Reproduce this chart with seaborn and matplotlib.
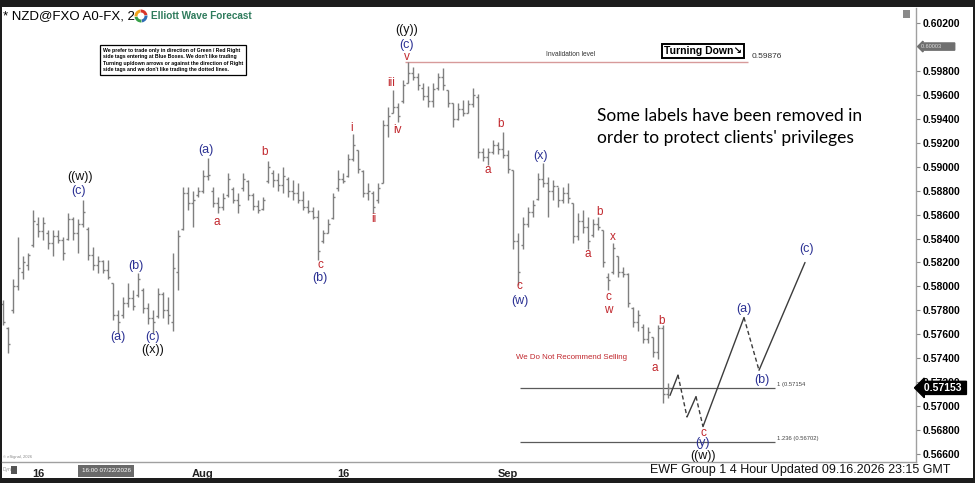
import matplotlib
matplotlib.use("Agg")
import matplotlib.pyplot as plt
import matplotlib.patches as mpatches
import matplotlib.transforms as mtransforms
from matplotlib.ticker import FormatStrFormatter
import seaborn as sns
import pandas as pd
import numpy as np

# ---------------------------------------------------------------
# NZD 4 hour bars
# ---------------------------------------------------------------
bar_open = [
    0.5785, 0.5765, 0.5780, 0.5800, 0.5812, 0.5818, 0.5835, 0.5852, 0.5846, 0.5845,
    0.5836, 0.5842, 0.5839, 0.5840, 0.5856, 0.5845, 0.5852, 0.5848, 0.5826, 0.5818,
    0.5821, 0.5814, 0.5803, 0.5776, 0.5776, 0.5786, 0.5790, 0.5793, 0.5797, 0.5782,
    0.5774, 0.5775, 0.5794, 0.5780, 0.5770, 0.5812, 0.5848, 0.5878, 0.5870, 0.5876,
    0.5880, 0.5892, 0.5880, 0.5870, 0.5866, 0.5876, 0.5881, 0.5872, 0.5882, 0.5888,
    0.5876, 0.5867, 0.5865, 0.5888, 0.5895, 0.5889, 0.5885, 0.5890, 0.5880, 0.5878,
    0.5872, 0.5866, 0.5863, 0.5858, 0.5838, 0.5845, 0.5857, 0.5882, 0.5890, 0.5892,
    0.5906, 0.5914, 0.5896, 0.5878, 0.5878, 0.5872, 0.5886, 0.5935, 0.5945, 0.5950,
    0.5955, 0.5970, 0.5978, 0.5975, 0.5966, 0.5959, 0.5955, 0.5966, 0.5975, 0.5964,
    0.5953, 0.5940, 0.5948, 0.5945, 0.5952, 0.5958, 0.5912, 0.5908, 0.5912, 0.5918,
    0.5915, 0.5910, 0.5897, 0.5838, 0.5835, 0.5852, 0.5862, 0.5873, 0.5890, 0.5886,
    0.5880, 0.5884, 0.5872, 0.5878, 0.5870, 0.5842, 0.5855, 0.5850, 0.5843, 0.5852,
    0.5847, 0.5808, 0.5812, 0.5825, 0.5812, 0.5810, 0.5782, 0.5770, 0.5766, 0.5756,
    0.5758, 0.5745, 0.5765, 0.5710,
]
bar_high = [
    0.5789, 0.5766, 0.5806, 0.5841, 0.5825, 0.5828, 0.5864, 0.5858, 0.5858, 0.5847,
    0.5847, 0.5847, 0.5841, 0.5861, 0.5858, 0.5856, 0.5872, 0.5850, 0.5833, 0.5825,
    0.5822, 0.5822, 0.5803, 0.5780, 0.5791, 0.5803, 0.5797, 0.5811, 0.5799, 0.5786,
    0.5780, 0.5799, 0.5795, 0.5791, 0.5828, 0.5847, 0.5883, 0.5883, 0.5880, 0.5883,
    0.5897, 0.5907, 0.5883, 0.5875, 0.5878, 0.5895, 0.5883, 0.5878, 0.5895, 0.5889,
    0.5878, 0.5872, 0.5875, 0.5905, 0.5897, 0.5895, 0.5900, 0.5891, 0.5889, 0.5886,
    0.5880, 0.5872, 0.5866, 0.5864, 0.5847, 0.5856, 0.5878, 0.5897, 0.5895, 0.5911,
    0.5927, 0.5914, 0.5897, 0.5886, 0.5880, 0.5886, 0.5939, 0.5950, 0.5964, 0.5953,
    0.5972, 0.5987, 0.5983, 0.5978, 0.5970, 0.5967, 0.5970, 0.5978, 0.5982, 0.5964,
    0.5953, 0.5953, 0.5956, 0.5956, 0.5966, 0.5961, 0.5916, 0.5916, 0.5922, 0.5921,
    0.5929, 0.5914, 0.5897, 0.5845, 0.5858, 0.5866, 0.5872, 0.5895, 0.5903, 0.5891,
    0.5889, 0.5883, 0.5883, 0.5886, 0.5870, 0.5861, 0.5864, 0.5858, 0.5856, 0.5858,
    0.5847, 0.5811, 0.5836, 0.5825, 0.5816, 0.5811, 0.5783, 0.5780, 0.5769, 0.5766,
    0.5758, 0.5768, 0.5768, 0.5719,
]
bar_low = [
    0.5768, 0.5744, 0.5778, 0.5797, 0.5806, 0.5814, 0.5833, 0.5841, 0.5839, 0.5831,
    0.5825, 0.5836, 0.5822, 0.5839, 0.5839, 0.5828, 0.5850, 0.5822, 0.5814, 0.5811,
    0.5811, 0.5806, 0.5772, 0.5761, 0.5774, 0.5783, 0.5780, 0.5791, 0.5778, 0.5769,
    0.5761, 0.5774, 0.5774, 0.5769, 0.5763, 0.5797, 0.5847, 0.5864, 0.5850, 0.5875,
    0.5878, 0.5889, 0.5866, 0.5861, 0.5864, 0.5875, 0.5870, 0.5861, 0.5880, 0.5872,
    0.5864, 0.5861, 0.5864, 0.5886, 0.5883, 0.5880, 0.5878, 0.5875, 0.5872, 0.5870,
    0.5864, 0.5861, 0.5856, 0.5822, 0.5836, 0.5845, 0.5856, 0.5880, 0.5886, 0.5891,
    0.5905, 0.5895, 0.5875, 0.5872, 0.5861, 0.5870, 0.5886, 0.5925, 0.5945, 0.5937,
    0.5953, 0.5970, 0.5972, 0.5964, 0.5956, 0.5950, 0.5950, 0.5964, 0.5964, 0.5950,
    0.5933, 0.5939, 0.5942, 0.5945, 0.5950, 0.5907, 0.5905, 0.5901, 0.5911, 0.5911,
    0.5907, 0.5895, 0.5831, 0.5801, 0.5831, 0.5850, 0.5858, 0.5872, 0.5883, 0.5858,
    0.5872, 0.5866, 0.5870, 0.5870, 0.5836, 0.5839, 0.5845, 0.5831, 0.5841, 0.5847,
    0.5816, 0.5797, 0.5810, 0.5808, 0.5808, 0.5783, 0.5766, 0.5763, 0.5753, 0.5753,
    0.5741, 0.5739, 0.5703, 0.5707,
]
bar_close = [
    0.5770, 0.5752, 0.5800, 0.5815, 0.5820, 0.5826, 0.5855, 0.5846, 0.5853, 0.5836,
    0.5842, 0.5839, 0.5828, 0.5856, 0.5845, 0.5852, 0.5862, 0.5826, 0.5818, 0.5821,
    0.5814, 0.5808, 0.5776, 0.5770, 0.5786, 0.5790, 0.5784, 0.5806, 0.5782, 0.5774,
    0.5770, 0.5794, 0.5780, 0.5776, 0.5815, 0.5842, 0.5878, 0.5870, 0.5872, 0.5880,
    0.5892, 0.5893, 0.5870, 0.5866, 0.5874, 0.5890, 0.5872, 0.5868, 0.5890, 0.5876,
    0.5867, 0.5864, 0.5872, 0.5900, 0.5889, 0.5885, 0.5892, 0.5880, 0.5878, 0.5872,
    0.5866, 0.5863, 0.5858, 0.5830, 0.5845, 0.5852, 0.5875, 0.5890, 0.5888, 0.5906,
    0.5918, 0.5898, 0.5878, 0.5880, 0.5866, 0.5882, 0.5935, 0.5942, 0.5950, 0.5942,
    0.5968, 0.5978, 0.5975, 0.5968, 0.5959, 0.5955, 0.5965, 0.5975, 0.5968, 0.5953,
    0.5940, 0.5948, 0.5945, 0.5952, 0.5960, 0.5912, 0.5908, 0.5912, 0.5918, 0.5915,
    0.5910, 0.5898, 0.5838, 0.5812, 0.5852, 0.5862, 0.5868, 0.5890, 0.5886, 0.5880,
    0.5884, 0.5872, 0.5878, 0.5874, 0.5842, 0.5855, 0.5850, 0.5838, 0.5852, 0.5850,
    0.5820, 0.5805, 0.5832, 0.5812, 0.5810, 0.5786, 0.5770, 0.5776, 0.5756, 0.5762,
    0.5745, 0.5765, 0.5710, 0.5715,
]

date_tick_bars = [7, 40, 68, 101]
date_tick_labels = ["16", "Aug", "16", "Sep"]
# 0.600 is hidden behind the grey marker tag on the original
price_ticks = [0.566, 0.568, 0.570, 0.572, 0.574, 0.576, 0.578, 0.580, 0.582, 0.584,
               0.586, 0.588, 0.590, 0.592, 0.594, 0.596, 0.598, 0.602]

# projected path after the last bar
proj_bar = [133.4, 135.0, 136.8, 138.6, 140.0, 148.2, 151.2, 160.4]
proj_price = [0.5709, 0.5726, 0.5691, 0.5708, 0.5683, 0.5774, 0.5730, 0.5820]
proj_dashed = [False, True, False, True, False, True, False]

invalidation = 0.59876
fib_100 = 0.57154
fib_1236 = 0.56702
last_price = 0.57153
marker_price = 0.60003

# wave labels (text, bar, price)
blue_labels = [("(c)", 15.2, 0.5880), ("(a)", 23.0, 0.5758), ("(b)", 26.6, 0.5817),
               ("(c)", 30.0, 0.5758), ("(a)", 40.6, 0.5914), ("(b)", 63.4, 0.5807),
               ("(c)", 80.6, 0.6002), ("(x)", 107.6, 0.5909), ("(w)", 103.4, 0.5788),
               ("(a)", 148.2, 0.5781), ("(b)", 151.8, 0.5722), ("(c)", 160.8, 0.5831),
               ("(y)", 140.0, 0.5669)]
black_labels = [("((w))", 15.4, 0.5891), ("((x))", 30.0, 0.5747),
                ("((y))", 80.8, 0.6014), ("((w))", 140.0, 0.5658)]
red_labels = [("a", 42.8, 0.5854), ("b", 52.4, 0.5912), ("c", 63.4, 0.5818),
              ("i", 69.8, 0.5932), ("ii", 74.2, 0.5856), ("iii", 77.6, 0.5970),
              ("iv", 79.0, 0.5931), ("v", 80.8, 0.5992), ("a", 97.0, 0.5897),
              ("b", 99.6, 0.5936), ("c", 103.2, 0.5800), ("a", 117.0, 0.5827),
              ("b", 119.4, 0.5862), ("x", 122.0, 0.5841), ("c", 121.0, 0.5791),
              ("w", 121.0, 0.5780), ("a", 130.4, 0.5732), ("b", 131.8, 0.5771),
              ("c", 140.0, 0.5678)]

BLUE = "#2b3193"
RED = "#c1272d"
GREY_BAR = "#7f7f7f"

sns.set_theme(style="white")
plt.rcParams["font.family"] = ["Liberation Sans", "DejaVu Sans"]

W, H = 975, 483
fig = plt.figure(figsize=(W / 100, H / 100), dpi=100)
fig.patch.set_facecolor("#1d1d1d")
fig.patches.append(mpatches.Rectangle((2 / W, 5 / H), 971 / W, 471 / H,
                                      transform=fig.transFigure, fc="white",
                                      ec="none", zorder=-5))

ax = fig.add_axes([2 / W, 21 / H, 914 / W, 454 / H])
ax.set_facecolor("white")

df = pd.DataFrame({"open": bar_open, "high": bar_high, "low": bar_low,
                   "close": bar_close})
df["bar"] = np.arange(len(df))

# OHLC bars
ax.vlines(df["bar"], df["low"], df["high"], color=GREY_BAR, lw=1.0, zorder=2)
ax.hlines(df["open"], df["bar"] - 0.4, df["bar"], color=GREY_BAR, lw=1.0, zorder=2)
ax.hlines(df["close"], df["bar"], df["bar"] + 0.4, color=GREY_BAR, lw=1.0, zorder=2)

# projected path
for k, dashed in enumerate(proj_dashed):
    seg = pd.DataFrame({"bar": proj_bar[k:k + 2], "price": proj_price[k:k + 2]})
    line = sns.lineplot(data=seg, x="bar", y="price", ax=ax, color="#3c3c3c",
                        lw=1.0, estimator=None, sort=False, zorder=3)
    if dashed:
        line.lines[-1].set_dashes((3, 2))

# invalidation + fib levels
ax.hlines(invalidation, 80.4, 149.0, color="#d79a9a", lw=1.0, zorder=1)
ax.text(113.6, 0.59935, "Invalidation level", fontsize=4.8, color="#333333",
        ha="center", va="center")
ax.text(149.8, 0.59916, "0.59876", fontsize=6, color="#333333", ha="left",
        va="center")
ax.text(140.0, 0.59966, "Turning Down\u2198", fontsize=7.5, fontweight="bold",
        color="black", ha="center", va="center",
        bbox=dict(boxstyle="square,pad=0.2", fc="white", ec="black", lw=1.4))

ax.hlines(fib_100, 103.4, 154.4, color="#5a5a5a", lw=0.9, zorder=1)
ax.hlines(fib_1236, 103.4, 154.4, color="#5a5a5a", lw=0.9, zorder=1)
ax.text(154.8, 0.5718, "1 (0.57154", fontsize=4.2, color="#444444", ha="left",
        va="center")
ax.text(154.8, 0.5673, "1.236 (0.56702)", fontsize=4.2, color="#444444",
        ha="left", va="center")

ax.text(113.8, 0.57403, "We Do Not Recommend Selling", fontsize=5.7, color=RED,
        ha="center", va="center")

for txt, b, p in blue_labels:
    ax.text(b, p, txt, color=BLUE, fontsize=9, ha="center", va="center", zorder=5)
for txt, b, p in black_labels:
    ax.text(b, p, txt, color="#111111", fontsize=9, ha="center", va="center", zorder=5)
for txt, b, p in red_labels:
    ax.text(b, p, txt, color=RED, fontsize=8.5, ha="center", va="center", zorder=5)

# axes
ax.set_xlim(-0.2, 182.6)
ax.set_ylim(0.56534, 0.60325)
ax.set_xlabel("")
ax.set_ylabel("")
ax.yaxis.tick_right()
ax.set_yticks(price_ticks)
ax.yaxis.set_major_formatter(FormatStrFormatter("%.5f"))
ax.set_xticks(date_tick_bars)
ax.set_xticklabels(date_tick_labels)
for s in ["top", "left"]:
    ax.spines[s].set_visible(False)
for s in ["right", "bottom"]:
    ax.spines[s].set_color("#a0a0a0")
    ax.spines[s].set_linewidth(1.0)
ax.tick_params(axis="y", length=3, width=0.8, color="#8a8a8a", labelcolor="black",
               labelsize=7.5, pad=2, left=False, right=True)
ax.tick_params(axis="x", length=0, labelcolor="#222222", labelsize=8, pad=5)
for lbl in ax.get_yticklabels() + ax.get_xticklabels():
    lbl.set_fontweight("bold")

ytrans = mtransforms.blended_transform_factory(ax.transAxes, ax.transData)
ax.text(1.006, last_price, " 0.57153 ", transform=ytrans, ha="left", va="center",
        color="white", fontsize=7.5, fontweight="bold", clip_on=False,
        zorder=10, bbox=dict(boxstyle="larrow,pad=0.15", fc="black", ec="black"))
ax.text(1.006, marker_price, "0.60003        ", transform=ytrans, ha="left",
        va="center", color="#dddddd", fontsize=4, clip_on=False, zorder=10,
        bbox=dict(boxstyle="larrow,pad=0.2", fc="#6f6f6f", ec="#6f6f6f"))

# header
fig.text(3 / W, 1 - 16 / H, "* NZD@FXO A0-FX, 2", fontsize=9.5, color="black",
         ha="left", va="center")
logo_c = (141 / 100, (H - 16) / 100)
for k, col in enumerate(["#d8342a", "#f2a41c", "#39a14a", "#2f6db6"]):
    fig.patches.append(mpatches.Wedge(logo_c, 0.065, 90 * k + 10, 90 * k + 95,
                                      width=0.03, fc=col, ec="none",
                                      transform=fig.dpi_scale_trans))
fig.text(151 / W, 1 - 16 / H, "Elliott Wave Forecast", fontsize=7.2,
         fontweight="bold", color="#2f7b5c", ha="left", va="center")

note = ("We prefer to trade only in direction of Green / Red Right\n"
        "side tags entering at Blue Boxes. We don't like trading\n"
        "Turning up/down arrows or against the direction of Right\n"
        "side tags and we don't like trading the dotted lines.")
fig.text(103 / W, 1 - 60 / H, note, fontsize=3.7, fontweight="bold", color="black",
         ha="left", va="center", linespacing=1.35,
         bbox=dict(boxstyle="square,pad=0.55", fc="white", ec="black", lw=0.9))

fig.text(597 / W, 1 - 127 / H,
         "Some labels have been removed in\norder to protect clients' privileges",
         fontsize=12.5, color="black", ha="left", va="center", linespacing=1.4,
         family=["Lato", "DejaVu Sans"])

# bottom strip
fig.text(3 / W, 1 - 457 / H, "\u00a9 eSignal, 2026", fontsize=3, color="#888888",
         ha="left", va="center")
fig.text(3 / W, 1 - 470 / H, "Dyn", fontsize=3.5, color="#999999", ha="left",
         va="center")
fig.patches.append(mpatches.Rectangle((11 / W, 1 - 474 / H), 6 / W, 8 / H,
                                      transform=fig.transFigure, fc="#555555",
                                      ec="none"))
fig.text(106 / W, 1 - 471 / H, "16:00 07/22/2026", fontsize=4.5, color="white",
         ha="center", va="center",
         bbox=dict(boxstyle="square,pad=0.55", fc="#6a6a6a", ec="none"))
fig.patches.append(mpatches.Rectangle((903 / W, 1 - 18 / H), 7 / W, 8 / H,
                                      transform=fig.transFigure, fc="#8a8a8a",
                                      ec="none"))
fig.text(650 / W, 1 - 470 / H, "EWF Group 1 4 Hour Updated 09.16.2026 23:15 GMT",
         fontsize=9, color="#111111", ha="left", va="center")

fig.savefig("out.png", dpi=100, facecolor=fig.get_facecolor())
